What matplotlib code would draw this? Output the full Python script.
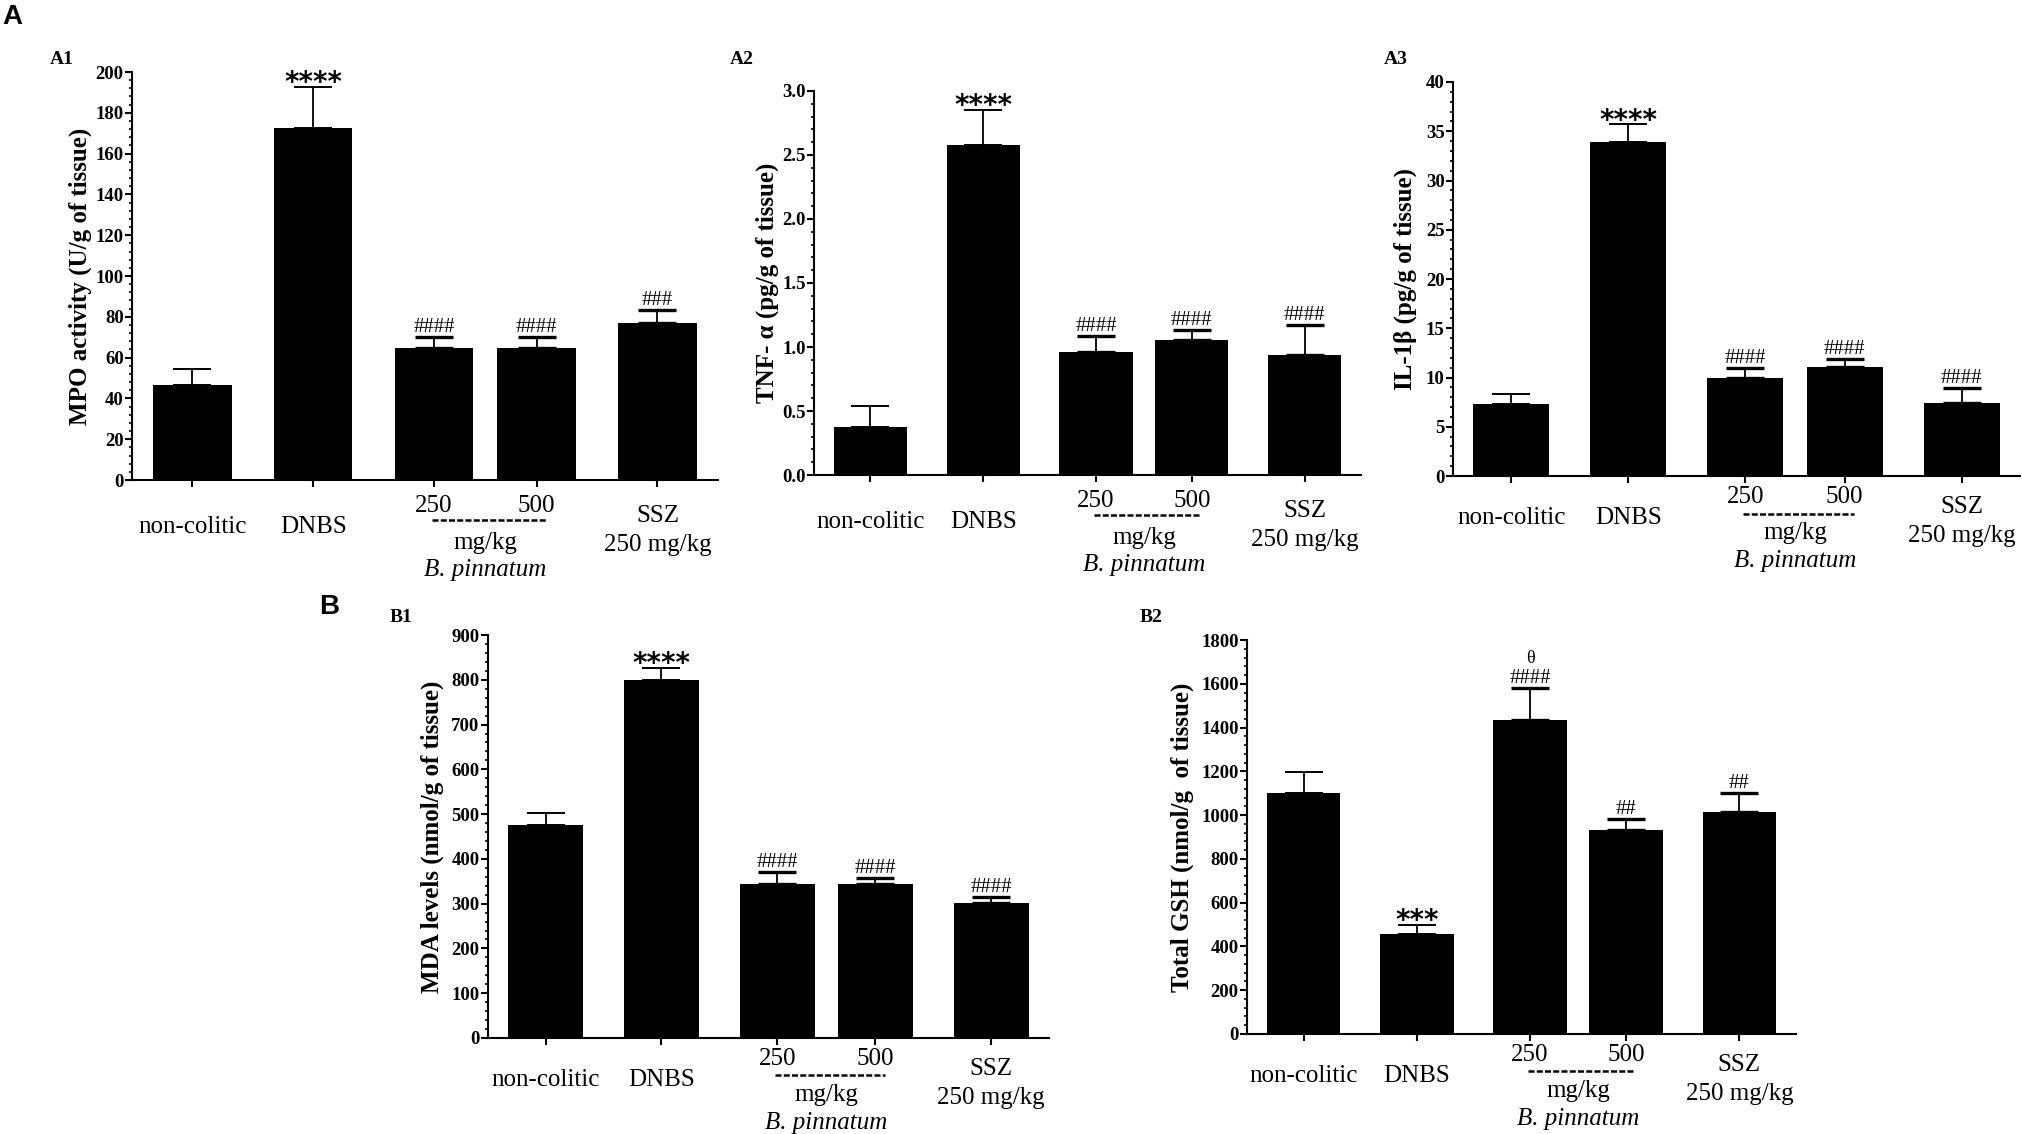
import matplotlib
matplotlib.use("Agg")
import matplotlib.pyplot as plt
from matplotlib.ticker import MultipleLocator, AutoMinorLocator, FormatStrFormatter
import matplotlib.transforms as mtransforms

# group order: non-colitic, DNBS, B. pinnatum 250, B. pinnatum 500, SSZ 250
mpo_mean = [46.6, 172.5, 64.6, 64.6, 77.1]
mpo_err = [7.6, 20.2, 5.4, 5.4, 6.3]
mpo_marks = ['', '****', '####', '####', '###']

tnf_mean = [0.375, 2.58, 0.958, 1.054, 0.935]
tnf_err = [0.161, 0.27, 0.13, 0.079, 0.235]
tnf_marks = ['', '****', '####', '####', '####']

il1b_mean = [7.29, 33.9, 10.0, 11.1, 7.39]
il1b_err = [1.06, 1.8, 0.93, 0.82, 1.54]
il1b_marks = ['', '****', '####', '####', '####']

mda_mean = [475, 799, 345, 345, 301.6]
mda_err = [28, 27, 26, 13, 13.4]
mda_marks = ['', '****', '####', '####', '####']

gsh_mean = [1103, 458.5, 1435, 930, 1015.5]
gsh_err = [93, 41.5, 144, 50, 85.5]
gsh_marks = ['', '***', '####', '##', '##']
gsh_extra = ['', '', 'θ', '', '']

x_pos = [0, 1, 2, 2.85, 3.85]

SERIF = 'Liberation Serif'
SANS = 'DejaVu Sans'

fig = plt.figure(figsize=(20.22, 11.34), dpi=100)


def panel(rect, means, errs, marks, top, step, fmt, ylabel, lab_x,
          extra=None, shift=0):
    ax = fig.add_axes(rect)
    ax.bar(x_pos, means, width=0.65, color='black', zorder=2)
    for i in range(len(means)):
        thick = 2.4 if '#' in marks[i] else 1.4
        ax.errorbar(x_pos[i], means[i], yerr=[[0], [errs[i]]], fmt='none',
                    ecolor='black', elinewidth=1.3, capsize=13.5,
                    capthick=thick, zorder=3)
        ytop = means[i] + errs[i]
        if marks[i].startswith('*'):
            ax.annotate(marks[i], (x_pos[i], ytop), xytext=(0, -3),
                        textcoords='offset points', ha='center', va='baseline',
                        fontsize=20, fontweight='bold', family=SANS)
        elif marks[i]:
            ax.annotate(marks[i], (x_pos[i], ytop), xytext=(0, 3.6),
                        textcoords='offset points', ha='center', va='baseline',
                        fontsize=15, family=SERIF)
        if extra is not None and extra[i]:
            ax.annotate(extra[i], (x_pos[i], ytop), xytext=(0, 18.5),
                        textcoords='offset points', ha='center', va='baseline',
                        fontsize=13, family=SERIF)

    ax.set_xlim(-0.5, 4.35)
    ax.set_ylim(0, top)
    ax.yaxis.set_major_locator(MultipleLocator(step))
    ax.yaxis.set_minor_locator(AutoMinorLocator(5))
    ax.yaxis.set_major_formatter(FormatStrFormatter(fmt))
    ax.set_xticks(x_pos)
    ax.set_xticklabels([])
    for s in ['top', 'right']:
        ax.spines[s].set_visible(False)
    for s in ['left', 'bottom']:
        ax.spines[s].set_linewidth(1.5)
    ax.tick_params(axis='y', which='major', length=5, width=1.5, pad=1,
                   labelsize=13.5)
    ax.tick_params(axis='y', which='minor', length=2.5, width=1.2)
    ax.tick_params(axis='x', which='major', length=5, width=1.5)
    for t in ax.get_yticklabels():
        t.set_family(SERIF)
        t.set_fontweight('bold')

    ax.set_ylabel(ylabel, family=SERIF, fontweight='bold', fontsize=18)
    ax.yaxis.set_label_coords(lab_x, 0.5)
    ax.yaxis.label.set_va('center')

    # group labels under the axis
    xt = ax.get_xaxis_transform()
    def lab(x, dy, s, size=18, style='normal'):
        ax.annotate(s, (x, 0), xycoords=xt, xytext=(0, dy + shift),
                    textcoords='offset points', ha='center', va='center',
                    fontsize=size, family=SERIF, style=style,
                    annotation_clip=False)
    lab(x_pos[0], -30, 'non-colitic')
    lab(x_pos[1], -30, 'DNBS')
    lab(x_pos[2], -15, '250')
    lab(x_pos[3], -15, '500')
    lab((x_pos[2] + x_pos[3]) / 2, -41, 'mg/kg')
    lab((x_pos[2] + x_pos[3]) / 2, -61, 'B. pinnatum', style='italic')
    lab(x_pos[4], -22, 'SSZ')
    lab(x_pos[4], -43, '250 mg/kg')
    dash_tr = mtransforms.offset_copy(xt, fig=fig, y=-27 + shift * 0.5,
                                      units='points')
    ax.plot([x_pos[2] - 0.02, x_pos[3] + 0.08], [0, 0], transform=dash_tr,
            color='black', lw=1.8, ls=(0, (2.4, 0.9)), clip_on=False,
            solid_capstyle='butt', dash_capstyle='butt')
    return ax


panel([0.0653, 0.5767, 0.2897, 0.3598], mpo_mean, mpo_err, mpo_marks,
      200, 20, '%d', 'MPO activity (U/g of tissue)', -0.089, shift=-4)
panel([0.4026, 0.5811, 0.2705, 0.3387], tnf_mean, tnf_err, tnf_marks,
      3.0, 0.5, '%.1f', 'TNF- α (pg/g of tissue)', -0.086, shift=-4)
panel([0.7186, 0.5802, 0.2804, 0.3475], il1b_mean, il1b_err, il1b_marks,
      40, 5, '%d', 'IL-1β (pg/g of tissue)', -0.085)
panel([0.2413, 0.0847, 0.2775, 0.3553], mda_mean, mda_err, mda_marks,
      900, 100, '%d', 'MDA levels (nmol/g of tissue)', -0.10)
panel([0.6167, 0.0882, 0.2715, 0.3474], gsh_mean, gsh_err, gsh_marks,
      1800, 200, '%d', 'Total GSH (nmol/g  of tissue)', -0.118, extra=gsh_extra)

# panel letters
fig.text(2 / 2022, 1 - 17 / 1134, 'A', fontsize=20, fontweight='bold',
         family='Liberation Sans', va='center', ha='left')
fig.text(319 / 2022, 1 - 607 / 1134, 'B', fontsize=20, fontweight='bold',
         family='Liberation Sans', va='center', ha='left')
for txt, px, py in [('A1', 50, 59), ('A2', 730, 59), ('A3', 1384, 59),
                    ('B1', 390, 618), ('B2', 1140, 618)]:
    fig.text(px / 2022, 1 - py / 1134, txt, fontsize=14, fontweight='bold',
             family=SERIF, va='center', ha='left')

fig.savefig('out.png', dpi=100, facecolor='white')
